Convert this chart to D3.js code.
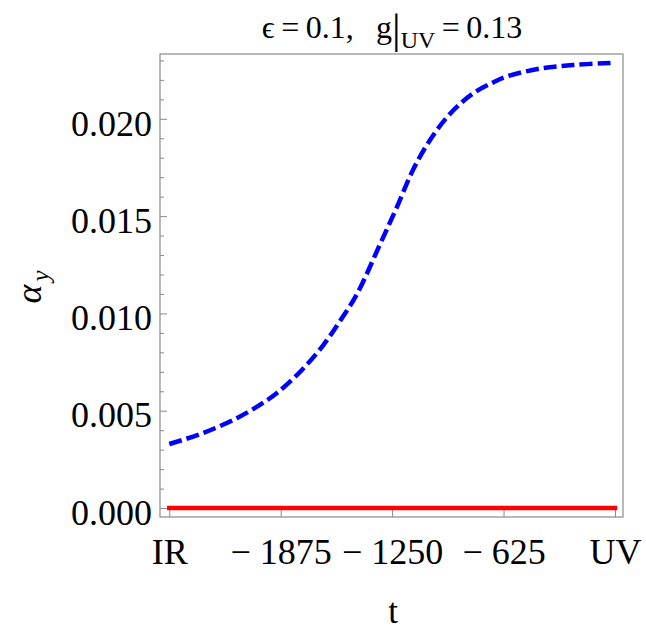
<!DOCTYPE html>
<html>
<head>
<meta charset="utf-8">
<script src="https://cdn.jsdelivr.net/npm/d3@7"></script>
<style>
  body { margin: 0; background: #fff; }
  svg text { font-family: "Liberation Serif", "Times New Roman", serif; fill: #000; }
</style>
</head>
<body>
<div class="chart"></div>
<script>
// values
var tValues = [-2500, -2311, -2121, -1992, -1896, -1767, -1638, -1543, -1447, -1318, -1223, -1133, -1038, -926, -797, -684, -606, -421, -236, -28, 0];
var alphaY = [0.00329, 0.00385, 0.00462, 0.00530, 0.00591, 0.00699, 0.00835, 0.00960, 0.01100, 0.01355, 0.01547, 0.01737, 0.01890, 0.02025, 0.02130, 0.02187, 0.02218, 0.02258, 0.02276, 0.02287, 0.02288];
var alphaRed = [0, 0, 0, 0, 0, 0, 0, 0, 0, 0, 0, 0, 0, 0, 0, 0, 0, 0, 0, 0, 0];

var xTicks = [-2500, -1875, -1250, -625, 0];
var xTickLabels = ["IR", "\u2212 1875", "\u2212 1250", "\u2212 625", "UV"];
var yTicks = [0, 0.005, 0.01, 0.015, 0.02];
var yTickLabels = ["0.000", "0.005", "0.010", "0.015", "0.020"];
var yMinor = [0.001, 0.002, 0.003, 0.004, 0.006, 0.007, 0.008, 0.009, 0.011, 0.012, 0.013, 0.014, 0.016, 0.017, 0.018, 0.019, 0.021, 0.022, 0.023];

var W = 646, H = 636;
var frame = {left: 160, right: 623, top: 54, bottom: 517};

var svg = d3.select(".chart").append("svg")
    .attr("width", W)
    .attr("height", H);

var xScale = d3.scaleLinear()
    .domain([-2552, 45])
    .range([frame.left, frame.right]);

var yScale = d3.scaleLinear()
    .domain([-0.00046, 0.02333])
    .range([frame.bottom, frame.top]);

var frameColor = "#8a8a8a";

// x axis, ticks pointing inward
var xAxis = svg.append("g")
    .attr("transform", "translate(0," + frame.bottom + ")")
    .call(d3.axisBottom(xScale)
      .tickValues(xTicks)
      .tickSize(-7)
      .tickPadding(21)
      .tickFormat(function(d, i) { return xTickLabels[i]; }));
xAxis.select(".domain").remove();
xAxis.selectAll("line").attr("stroke", frameColor);
xAxis.selectAll("text")
    .attr("font-family", "Liberation Serif")
    .attr("font-size", 36);

// y axis
var yAxis = svg.append("g")
    .attr("transform", "translate(" + frame.left + ",0)")
    .call(d3.axisLeft(yScale)
      .tickValues(yTicks)
      .tickSize(-7)
      .tickPadding(8)
      .tickFormat(function(d, i) { return yTickLabels[i]; }));
yAxis.select(".domain").remove();
yAxis.selectAll("line").attr("stroke", frameColor);
yAxis.selectAll("text")
    .attr("font-family", "Liberation Serif")
    .attr("font-size", 36)
    .attr("dy", "0.45em");

var yAxisMinor = svg.append("g")
    .attr("transform", "translate(" + frame.left + ",0)")
    .call(d3.axisLeft(yScale)
      .tickValues(yMinor)
      .tickSize(-4)
      .tickFormat(""));
yAxisMinor.select(".domain").remove();
yAxisMinor.selectAll("line").attr("stroke", frameColor);

// frame
svg.append("rect")
    .attr("x", frame.left)
    .attr("y", frame.top)
    .attr("width", frame.right - frame.left)
    .attr("height", frame.bottom - frame.top)
    .attr("fill", "none")
    .attr("stroke", frameColor)
    .attr("stroke-width", 1.2);

// curves
var line = d3.line()
    .x(function(d) { return xScale(d[0]); })
    .y(function(d) { return yScale(d[1]); })
    .curve(d3.curveCatmullRom.alpha(0.5));

svg.append("path")
    .datum(tValues.map(function(t, i) { return [t, alphaRed[i]]; }))
    .attr("d", line)
    .attr("fill", "none")
    .attr("stroke", "#ff0000")
    .attr("stroke-width", 4.5)
    .attr("stroke-linecap", "square");

svg.append("path")
    .datum(tValues.map(function(t, i) { return [t, alphaY[i]]; }))
    .attr("d", line)
    .attr("fill", "none")
    .attr("stroke", "#0000ff")
    .attr("stroke-width", 4.5)
    .attr("stroke-dasharray", "13,5");

// axis labels
svg.append("text")
    .attr("x", 393)
    .attr("y", 623)
    .attr("text-anchor", "middle")
    .attr("font-size", 35)
    .text("t");

var ylab = svg.append("text")
    .attr("transform", "translate(41,287) rotate(-90)")
    .attr("text-anchor", "middle")
    .attr("font-size", 36);
ylab.append("tspan").attr("font-style", "italic").text("\u03b1");
ylab.append("tspan").attr("font-style", "italic").attr("font-size", 25).attr("dy", 8).attr("dx", 3).text("y");

// title
var title = svg.append("text")
    .attr("x", 392)
    .attr("y", 38)
    .attr("text-anchor", "middle")
    .attr("font-size", 32);
title.append("tspan").text("\u03f5\u2009=\u20090.1,\u2002\u2009g");
title.append("tspan").attr("font-size", 43).attr("dy", 5).attr("font-weight", 100).text("|");
title.append("tspan").attr("font-size", 24).attr("dy", 5).text("UV");
title.append("tspan").attr("dy", -10).text("\u2009=\u20090.13");
</script>
</body>
</html>
